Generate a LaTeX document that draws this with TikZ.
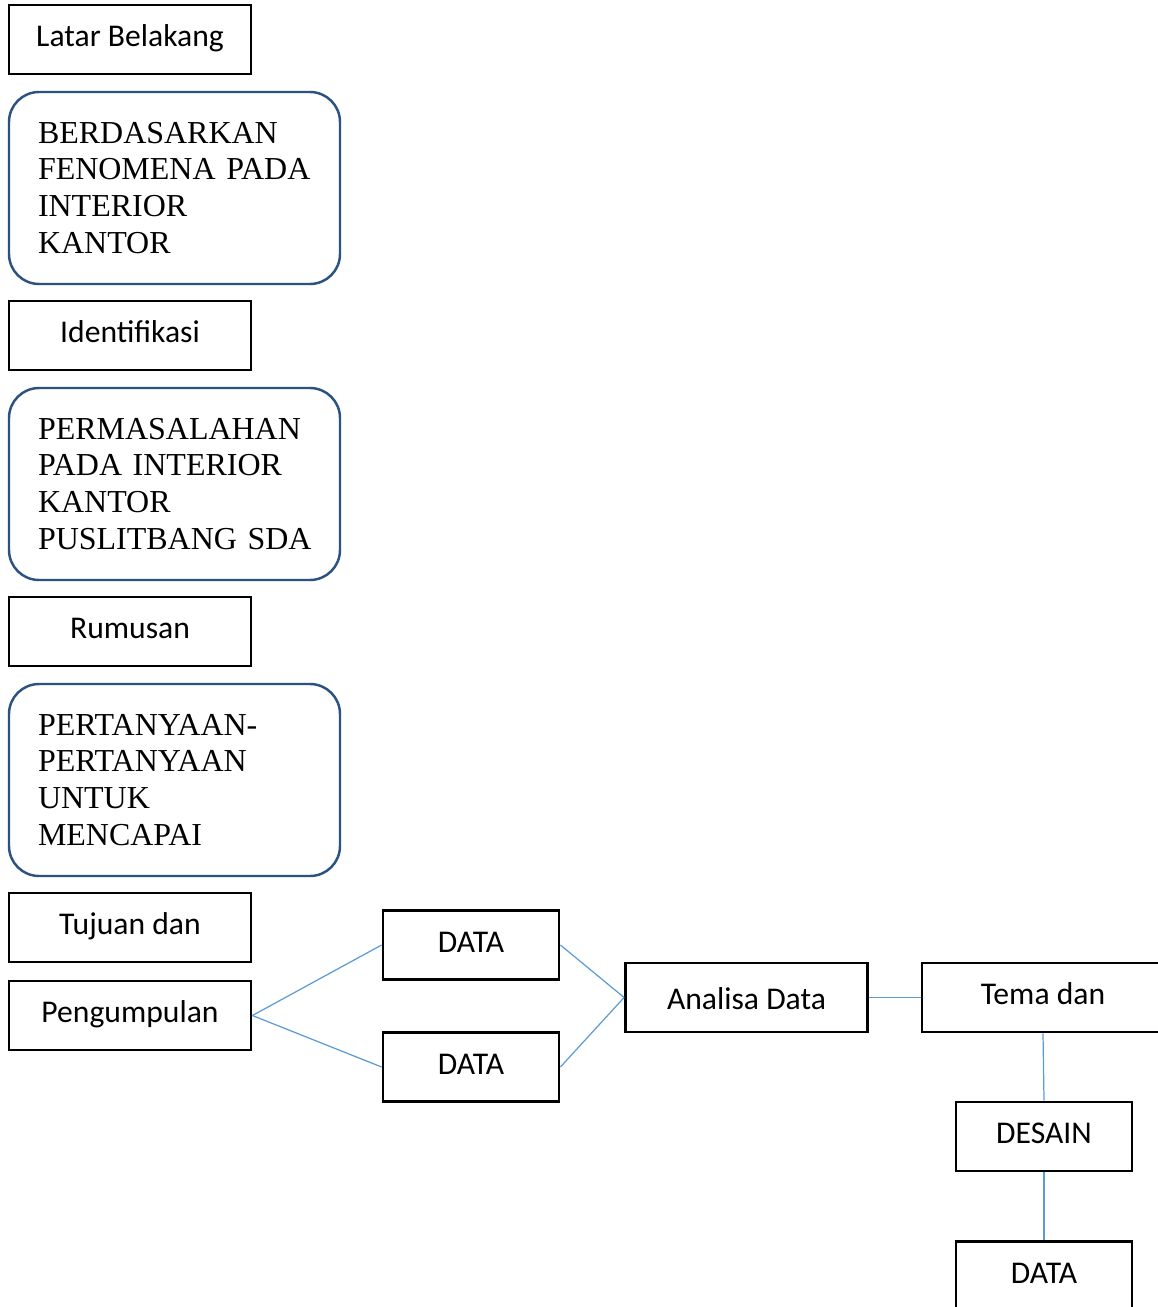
\documentclass[tikz,border=0pt]{standalone}
\usepackage{fontspec}
\setmainfont{Liberation Serif}
\newfontfamily\kalibri{Carlito}
\definecolor{garisbiru}{RGB}{91,155,213}
\definecolor{tepibiru}{RGB}{44,82,130}
\newdimen\px \px=0.02cm

\tikzset{
  kotak/.style={draw=black, line width=1.6pt, minimum width=242\px, minimum height=69\px,
    inner sep=0pt, font=\kalibri\fontsize{18}{21}\selectfont, text height=13.5pt, text depth=5.4pt},
  kotakkecil/.style={kotak, minimum width=176\px},
  bulat/.style={draw=tepibiru, line width=1.4pt, rounded corners=30\px, minimum width=331\px,
    minimum height=192\px, inner xsep=29\px, inner ysep=0pt, text width=273\px, align=left,
    font=\fontsize{18.2}{21}\selectfont},
  hubung/.style={draw=garisbiru, line width=0.7pt}
}

\begin{document}
\begin{tikzpicture}[x=1\px, y=-1\px]
\useasboundingbox (0,0) rectangle (1158,1307);
\clip (0,0) rectangle (1158,1307);
% kolom kiri
\node[kotak] (latar) at (130,39.5) {Latar Belakang};
\node[bulat] (fenomena) at (174.5,188)
  {BERDASARKAN\\ FENOMENA~PADA\\ INTERIOR\\ KANTOR};
\node[kotak] (identifikasi) at (130,335.5) {Identifikasi};
\node[bulat] (permasalahan) at (174.5,484)
  {PERMASALAHAN\\ PADA~INTERIOR\\ KANTOR\\ PUSLITBANG~SDA};
\node[kotak] (rumusan) at (130,631.5) {Rumusan};
\node[bulat] (pertanyaan) at (174.5,780)
  {PERTANYAAN-\\ PERTANYAAN\\ UNTUK\\ MENCAPAI};
\node[kotak] (tujuan) at (130,927.5) {Tujuan dan};
\node[kotak] (pengumpulan) at (130,1015.5) {Pengumpulan};
% data dan analisa
\node[kotakkecil] (data1) at (471,945) {DATA};
\node[kotakkecil] (data2) at (471,1067) {DATA};
\node[kotak, text height=19.1pt] (analisa) at (746.5,997.5) {Analisa Data};
\node[kotak] (tema) at (1043,997.5) {Tema dan};
\node[kotakkecil] (desain) at (1044,1136.5) {DESAIN};
\node[kotakkecil] (data3) at (1044,1276) {DATA};
% garis penghubung
\draw[hubung] (pengumpulan.east) -- (data1.west);
\draw[hubung] (pengumpulan.east) -- (data2.west);
\draw[hubung] (data1.east) -- (analisa.west);
\draw[hubung] (data2.east) -- (analisa.west);
\draw[hubung] (analisa.east) -- (tema.west);
\draw[hubung] (tema.south) -- (desain.north);
\draw[hubung] (desain.south) -- (data3.north);
\end{tikzpicture}
\end{document}
